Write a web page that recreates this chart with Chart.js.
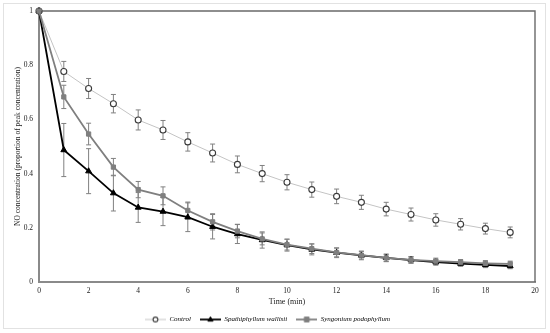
<!DOCTYPE html>
<html>
<head>
<meta charset="utf-8">
<script src="https://cdn.jsdelivr.net/npm/chart.js@4/dist/chart.umd.min.js"></script>
<style>
  html, body { margin: 0; padding: 0; background: #fff; }
  #wrap { position: relative; width: 550px; height: 333px; }
  #frame { position: absolute; left: 3px; top: 3px; width: 541px; height: 324px; border: 1px solid #e2e2e2; pointer-events: none; }
  canvas { position: absolute; left: 0; top: 0; }
</style>
</head>
<body>
<div id="wrap">
  <canvas id="c" width="550" height="333"></canvas>
  <div id="frame"></div>
</div>
<script>
const times = [0,1,2,3,4,5,6,7,8,9,10,11,12,13,14,15,16,17,18,19];
const seriesNames = ['Control', 'Spathiphyllum wallisii', 'Syngonium podophyllum'];
const controlVals = [1, 0.777, 0.714, 0.658, 0.598, 0.561, 0.517, 0.476, 0.434, 0.400, 0.368, 0.341, 0.316, 0.294, 0.269, 0.249, 0.229, 0.213, 0.197, 0.183];
const controlErr  = [0, 0.037, 0.037, 0.034, 0.037, 0.035, 0.034, 0.033, 0.031, 0.030, 0.028, 0.028, 0.027, 0.026, 0.025, 0.024, 0.023, 0.021, 0.020, 0.020];
const spathVals   = [1, 0.487, 0.409, 0.328, 0.275, 0.260, 0.239, 0.204, 0.177, 0.155, 0.136, 0.120, 0.108, 0.098, 0.089, 0.081, 0.073, 0.068, 0.063, 0.059];
const spathErr    = [0, 0.098, 0.083, 0.066, 0.055, 0.052, 0.053, 0.045, 0.035, 0.030, 0.022, 0.020, 0.018, 0.016, 0.014, 0.012, 0.011, 0.010, 0.010, 0.010];
const syngVals    = [1, 0.683, 0.546, 0.424, 0.341, 0.318, 0.264, 0.222, 0.188, 0.159, 0.138, 0.123, 0.109, 0.099, 0.089, 0.082, 0.077, 0.073, 0.069, 0.067];
const syngErr     = [0, 0.043, 0.040, 0.032, 0.030, 0.033, 0.031, 0.030, 0.025, 0.022, 0.020, 0.018, 0.016, 0.014, 0.013, 0.012, 0.011, 0.010, 0.010, 0.010];
const xTicks = [0,2,4,6,8,10,12,14,16,18,20];
const yTicks = [0,0.2,0.4,0.6,0.8,1];

const SERIF = '"Liberation Serif", "Times New Roman", serif';

function toPts(vals) { return times.map((t, i) => ({x: t, y: vals[i]})); }

const styles = [
  {line: '#c4c4c4', lw: 1, point: 'circle', pr: 3, pfill: '#ffffff', pborder: '#3a3a3a', pbw: 1.1},
  {line: '#000000', lw: 1.8, point: 'triangle', pr: 3.4, pfill: '#000000', pborder: '#000000', pbw: 1},
  {line: '#7f7f7f', lw: 1.8, point: 'rect', pr: 3, pfill: '#7f7f7f', pborder: '#7f7f7f', pbw: 1}
];
const errs = [controlErr, spathErr, syngErr];
const vals = [controlVals, spathVals, syngVals];

const datasets = vals.map((v, i) => ({
  label: seriesNames[i],
  data: toPts(v),
  errors: errs[i],
  borderColor: styles[i].line,
  borderWidth: styles[i].lw,
  pointStyle: styles[i].point,
  pointRadius: styles[i].pr,
  pointBackgroundColor: styles[i].pfill,
  pointBorderColor: styles[i].pborder,
  pointBorderWidth: styles[i].pbw,
  tension: 0,
  fill: false,
  clip: false,
  order: 3 - i
}));

function legendIcon(i) {
  const s = styles[i];
  const cv = document.createElement('canvas');
  cv.width = 21; cv.height = 8;
  const c = cv.getContext('2d');
  const r = s.pr * 0.8, cx = 10.5, cy = 4;
  c.strokeStyle = s.line; c.lineWidth = s.lw;
  c.beginPath(); c.moveTo(0, cy); c.lineTo(21, cy); c.stroke();
  c.fillStyle = s.pfill; c.strokeStyle = s.pborder; c.lineWidth = s.pbw;
  c.beginPath();
  if (s.point === 'circle') { c.arc(cx, cy, r, 0, Math.PI * 2); }
  else if (s.point === 'rect') { c.rect(cx - r, cy - r, r * 2, r * 2); }
  else { c.moveTo(cx, cy - r); c.lineTo(cx + r * 0.95, cy + r * 0.6); c.lineTo(cx - r * 0.95, cy + r * 0.6); c.closePath(); }
  c.fill(); c.stroke();
  return cv;
}

const errorBars = {
  id: 'errorBars',
  beforeDatasetsDraw(chart) {
    const {ctx, scales: {x, y}} = chart;
    ctx.save();
    ctx.strokeStyle = '#808080';
    ctx.lineWidth = 1;
    chart.data.datasets.forEach(ds => {
      ds.data.forEach((p, i) => {
        const e = ds.errors[i];
        if (!e) return;
        const px = x.getPixelForValue(p.x);
        const y1 = y.getPixelForValue(p.y + e);
        const y2 = y.getPixelForValue(p.y - e);
        ctx.beginPath();
        ctx.moveTo(px, y1); ctx.lineTo(px, y2);
        ctx.moveTo(px - 2.5, y1); ctx.lineTo(px + 2.5, y1);
        ctx.moveTo(px - 2.5, y2); ctx.lineTo(px + 2.5, y2);
        ctx.stroke();
      });
    });
    ctx.restore();
  }
};

const boxLines = {
  id: 'boxLines',
  beforeDatasetsDraw(chart) {
    const {ctx, chartArea: a} = chart;
    ctx.save();
    ctx.strokeStyle = '#6a6a6a';
    ctx.lineWidth = 1.4;
    ctx.beginPath();
    ctx.moveTo(a.left, a.top); ctx.lineTo(a.right, a.top); ctx.lineTo(a.right, a.bottom);
    ctx.stroke();
    ctx.restore();
  }
};

new Chart(document.getElementById('c'), {
  type: 'line',
  data: { datasets },
  options: {
    responsive: false,
    animation: false,
    layout: { padding: { left: 0, right: 15, top: 11, bottom: 0 } },
    plugins: {
      tooltip: { enabled: false },
      legend: {
        position: 'bottom',
        labels: {
          usePointStyle: true,
          pointStyleWidth: 21,
          padding: 9,
          color: '#222',
          font: { family: SERIF, size: 7, style: 'italic' },
          generateLabels(chart) {
            return chart.data.datasets.map((ds, i) => ({
              text: ds.label,
              pointStyle: legendIcon(i),
              fillStyle: 'transparent',
              strokeStyle: 'transparent',
              lineWidth: 0,
              datasetIndex: i,
              hidden: false
            }));
          }
        }
      }
    },
    scales: {
      x: {
        type: 'linear',
        min: 0, max: 20,
        afterBuildTicks(s) { s.ticks = xTicks.map(v => ({value: v})); },
        afterFit(s) { s.height = 25; },
        grid: { display: false, drawTicks: false },
        border: { display: true, color: '#8a8a8a', width: 2 },
        ticks: { padding: 5, color: '#222', font: { family: SERIF, size: 7.5 }, maxRotation: 0, callback: v => String(+v.toFixed(1)) },
        title: { display: true, text: 'Time (min)', color: '#222', padding: {top: 0, bottom: 0}, font: { family: SERIF, size: 8 } }
      },
      y: {
        type: 'linear',
        min: 0, max: 1,
        afterBuildTicks(s) { s.ticks = yTicks.map(v => ({value: v})); },
        afterFit(s) { s.width = 39; },
        grid: { display: false, drawTicks: false },
        border: { display: true, color: '#8a8a8a', width: 2 },
        ticks: { padding: 6, color: '#222', font: { family: SERIF, size: 7.5 }, callback: v => String(+v.toFixed(1)) },
        title: { display: true, text: 'NO concentration (proportion of peak concentration)', color: '#222', padding: {top: 14, bottom: 0}, font: { family: SERIF, size: 7.5 } }
      }
    }
  },
  plugins: [boxLines, errorBars]
});
</script>
</body>
</html>
